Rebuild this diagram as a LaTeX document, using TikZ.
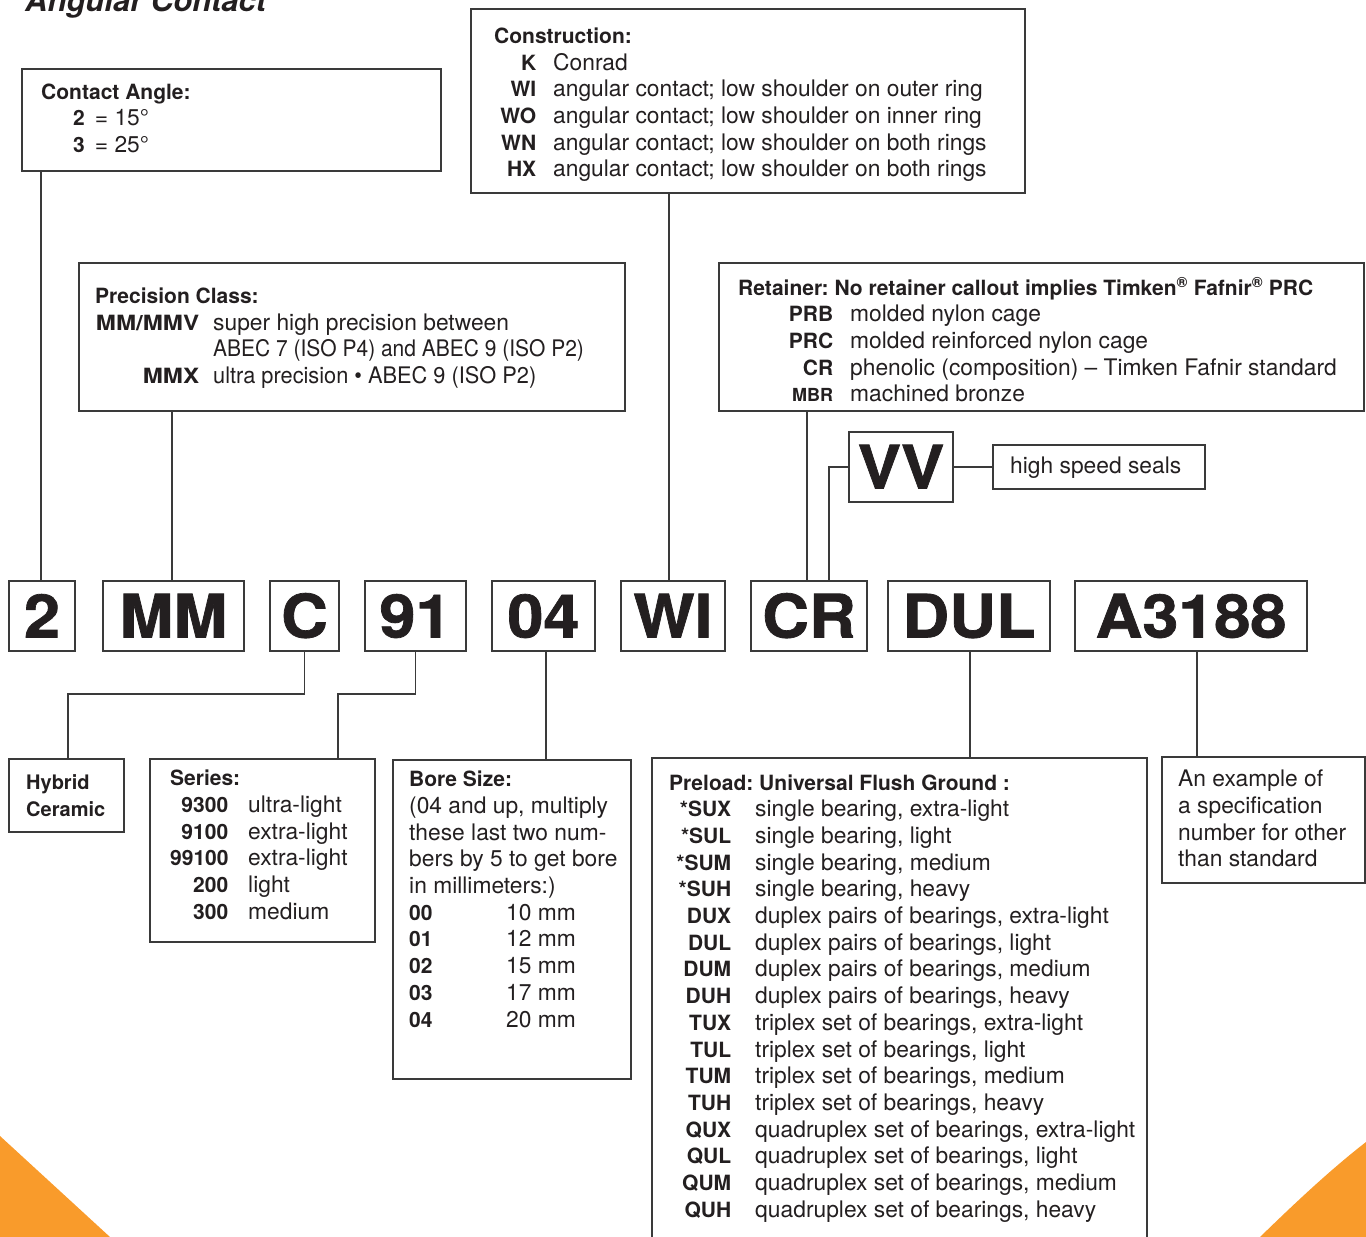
\documentclass[tikz,border=0pt]{standalone}
\usepackage{fontspec}
\setmainfont{TeX Gyre Heros}
\newfontfamily\blkfont{texgyreheros-bold.otf}[FakeBold=1.2, FakeStretch=1.08]
\usepackage{array}
\definecolor{ink}{HTML}{231F20}
\definecolor{ln}{HTML}{3A3A3A}
\definecolor{orng}{HTML}{F99B2B}
\newcommand{\rgf}{\fontsize{22.8}{26.7}\selectfont\frenchspacing}
\newcommand{\bdf}{\fontsize{21}{26.7}\selectfont\bfseries}
\newcolumntype{B}[1]{>{\bdf\raggedleft\arraybackslash}p{#1}}
\tikzset{
  frame/.style={draw=ln, line width=1.4pt, inner sep=0pt},
  codebox/.style={frame, minimum height=70pt, font=\fontsize{60}{60}\selectfont\blkfont, text height=43pt, text depth=0pt},
  txt/.style={inner sep=0pt, anchor=base west, font=\rgf},
  conn/.style={draw=ln, line width=1.4pt},
}
\begin{document}
\frenchspacing
\begin{tikzpicture}[x=1pt, y=-1pt, text=ink]
\useasboundingbox (0,0) rectangle (1366,1237);
% orange corners
\fill[orng] (0,1136) -- (110,1237) -- (0,1237) -- cycle;
\fill[orng] (1366,1142) .. controls (1330,1170) and (1295,1203) .. (1260,1237) -- (1366,1237) -- cycle;

% title (cut at top)
\node[txt, font=\fontsize{31}{31}\selectfont\bfseries\itshape] (title) at (25,11) {Angular Contact};

% ---------- upper boxes ----------
\node[frame, minimum width=419pt, minimum height=102pt] (cab) at (231.5,120) {};
\node[txt] (tcab) at (41,99) {\begin{tabular}[t]{@{}l@{}}
{\bdf Contact Angle:}\\
\hspace*{32pt}{\bdf 2}\hspace{10pt}= 15°\\
\hspace*{32pt}{\bdf 3}\hspace{10pt}= 25°
\end{tabular}};

\node[frame, minimum width=554pt, minimum height=184pt] (constr) at (748,101) {};
\node[txt] (tconstr) at (494,43.3) {\begin{tabular}[t]{@{}B{42pt}@{\hspace{17pt}}l@{}}
\multicolumn{2}{@{}l@{}}{\bdf Construction:}\\
K & Conrad\\
WI & angular contact; low shoulder on outer ring\\
WO & angular contact; low shoulder on inner ring\\
WN & angular contact; low shoulder on both rings\\
HX & angular contact; low shoulder on both rings
\end{tabular}};

\node[frame, minimum width=546pt, minimum height=148pt] (prec) at (352,337) {};
\node[txt] (tprec) at (95,303.3) {\begin{tabular}[t]{@{}B{104pt}@{\hspace{14pt}}l@{}}
\multicolumn{2}{@{}l@{}}{\bdf Precision Class:}\\
\scalebox{1.15}[1]{MM/MMV} & super high precision between\\
 & \scalebox{0.92}[1]{ABEC 7 (ISO P4) and ABEC 9 (ISO P2)}\\
\scalebox{1.15}[1]{MMX} & \scalebox{0.955}[1]{ultra precision • ABEC 9 (ISO P2)}
\end{tabular}};

\node[frame, minimum width=645pt, minimum height=148pt] (ret) at (1041.5,337) {};
\node[txt] (tret) at (738,295) {\begin{tabular}[t]{@{}B{95pt}@{\hspace{17pt}}l@{}}
\multicolumn{2}{@{}l@{}}{\bdf Retainer: No retainer callout implies Timken\textsuperscript{®} Fafnir\textsuperscript{®} PRC}\\
PRB & molded nylon cage\\
PRC & molded reinforced nylon cage\\
CR & phenolic (composition) -- Timken Fafnir standard\\
{\fontsize{18}{26.7}\selectfont MBR} & machined bronze
\end{tabular}};

% VV and seals
\node[codebox, minimum width=104pt] (vv) at (901,467) {VV};
\node[frame, minimum width=212pt, minimum height=44pt] (hss) at (1099,467) {};
\node[txt] (thss) at (1010,473) {high speed seals};

% ---------- code row ----------
\node[codebox, minimum width=66pt]  (c2)   at (42,616)    {2};
\node[codebox, minimum width=141pt] (cMM)  at (173.5,616) {MM};
\node[codebox, minimum width=69pt]  (cC)   at (304.5,616) {C};
\node[codebox, minimum width=101pt] (c91)  at (415.5,616) {91};
\node[codebox, minimum width=103pt] (c04)  at (543.5,616) {04};
\node[codebox, minimum width=104pt] (cWI)  at (673,616)   {WI};
\node[codebox, minimum width=116pt] (cCR)  at (809,616)   {CR};
\node[codebox, minimum width=162pt] (cDUL) at (969,616)   {DUL};
\node[codebox, minimum width=232pt] (cA)   at (1191,616)  {A3188};

% ---------- lower boxes ----------
\node[frame, minimum width=115pt, minimum height=73pt] (hyb) at (66.5,795.5) {};
\node[txt, font=\fontsize{20}{27}\selectfont\bfseries] (thyb) at (26,789) {\begin{tabular}[t]{@{}l@{}}Hybrid\\Ceramic\end{tabular}};

\node[frame, minimum width=225pt, minimum height=183pt] (ser) at (262.5,850.5) {};
\node[txt] (tser) at (170,785.7) {\begin{tabular}[t]{@{}B{58pt}@{\hspace{20pt}}l@{}}
\multicolumn{2}{@{}l@{}}{\bdf Series:}\\
9300 & ultra-light\\
9100 & extra-light\\
99100 & extra-light\\
200 & light\\
300 & medium
\end{tabular}};

\node[frame, minimum width=238pt, minimum height=319pt] (bore) at (512,919.5) {};
\node[txt] (tbore) at (409,786.7) {\begin{tabular}[t]{@{}>{\bdf}p{97pt}@{}l@{}}
\multicolumn{2}{@{}l@{}}{\bdf Bore Size:}\\
\multicolumn{2}{@{}l@{}}{(04 and up, multiply}\\
\multicolumn{2}{@{}l@{}}{these last two num-}\\
\multicolumn{2}{@{}l@{}}{bers by 5 to get bore}\\
\multicolumn{2}{@{}l@{}}{in millimeters:)}\\
00 & 10 mm\\
01 & 12 mm\\
02 & 15 mm\\
03 & 17 mm\\
04 & 20 mm
\end{tabular}};

\node[frame, minimum width=495pt, minimum height=500pt] (pre) at (899.5,1008) {};
\node[txt] (tpre) at (669,790) {\begin{tabular}[t]{@{}B{62pt}@{\hspace{24pt}}l@{}}
\multicolumn{2}{@{}l@{}}{\bdf Preload: Universal Flush Ground :}\\
{*}SUX & single bearing, extra-light\\
{*}SUL & single bearing, light\\
{*}SUM & single bearing, medium\\
{*}SUH & single bearing, heavy\\
DUX & duplex pairs of bearings, extra-light\\
DUL & duplex pairs of bearings, light\\
DUM & duplex pairs of bearings, medium\\
DUH & duplex pairs of bearings, heavy\\
TUX & triplex set of bearings, extra-light\\
TUL & triplex set of bearings, light\\
TUM & triplex set of bearings, medium\\
TUH & triplex set of bearings, heavy\\
QUX & quadruplex set of bearings, extra-light\\
QUL & quadruplex set of bearings, light\\
QUM & quadruplex set of bearings, medium\\
QUH & quadruplex set of bearings, heavy
\end{tabular}};

\node[frame, minimum width=203pt, minimum height=126pt] (ex) at (1263.5,820) {};
\node[txt] (tex) at (1178,786.7) {\begin{tabular}[t]{@{}l@{}}
An example of\\
a specification\\
number for other\\
than standard
\end{tabular}};

% ---------- connectors ----------
\draw[conn] ([xshift=-1pt]c2.north) -- ([xshift=-1pt]c2.north |- cab.south);
\draw[conn] ([xshift=-1.5pt]cMM.north) -- ([xshift=-1.5pt]cMM.north |- prec.south);
\draw[conn] ([xshift=-4pt]cWI.north) -- ([xshift=-4pt]cWI.north |- constr.south);
\draw[conn] ([xshift=-2pt]cCR.north) -- ([xshift=-2pt]cCR.north |- ret.south);
\draw[conn] (vv.west) -| ([xshift=20pt]cCR.north);
\draw[conn] (vv.east) -- (hss.west);

\coordinate (kC) at (68,694);
\draw[conn] (cC.south) |- (kC) -- (kC |- hyb.north);
\coordinate (k91) at (338,694);
\draw[conn] (c91.south) |- (k91) -- (k91 |- ser.north);
\draw[conn] ([xshift=2.5pt]c04.south) -- ([xshift=2.5pt]c04.south |- bore.north);
\draw[conn] ([xshift=1pt]cDUL.south) -- ([xshift=1pt]cDUL.south |- pre.north);
\draw[conn] ([xshift=6pt]cA.south) -- ([xshift=6pt]cA.south |- ex.north);
\end{tikzpicture}
\end{document}
